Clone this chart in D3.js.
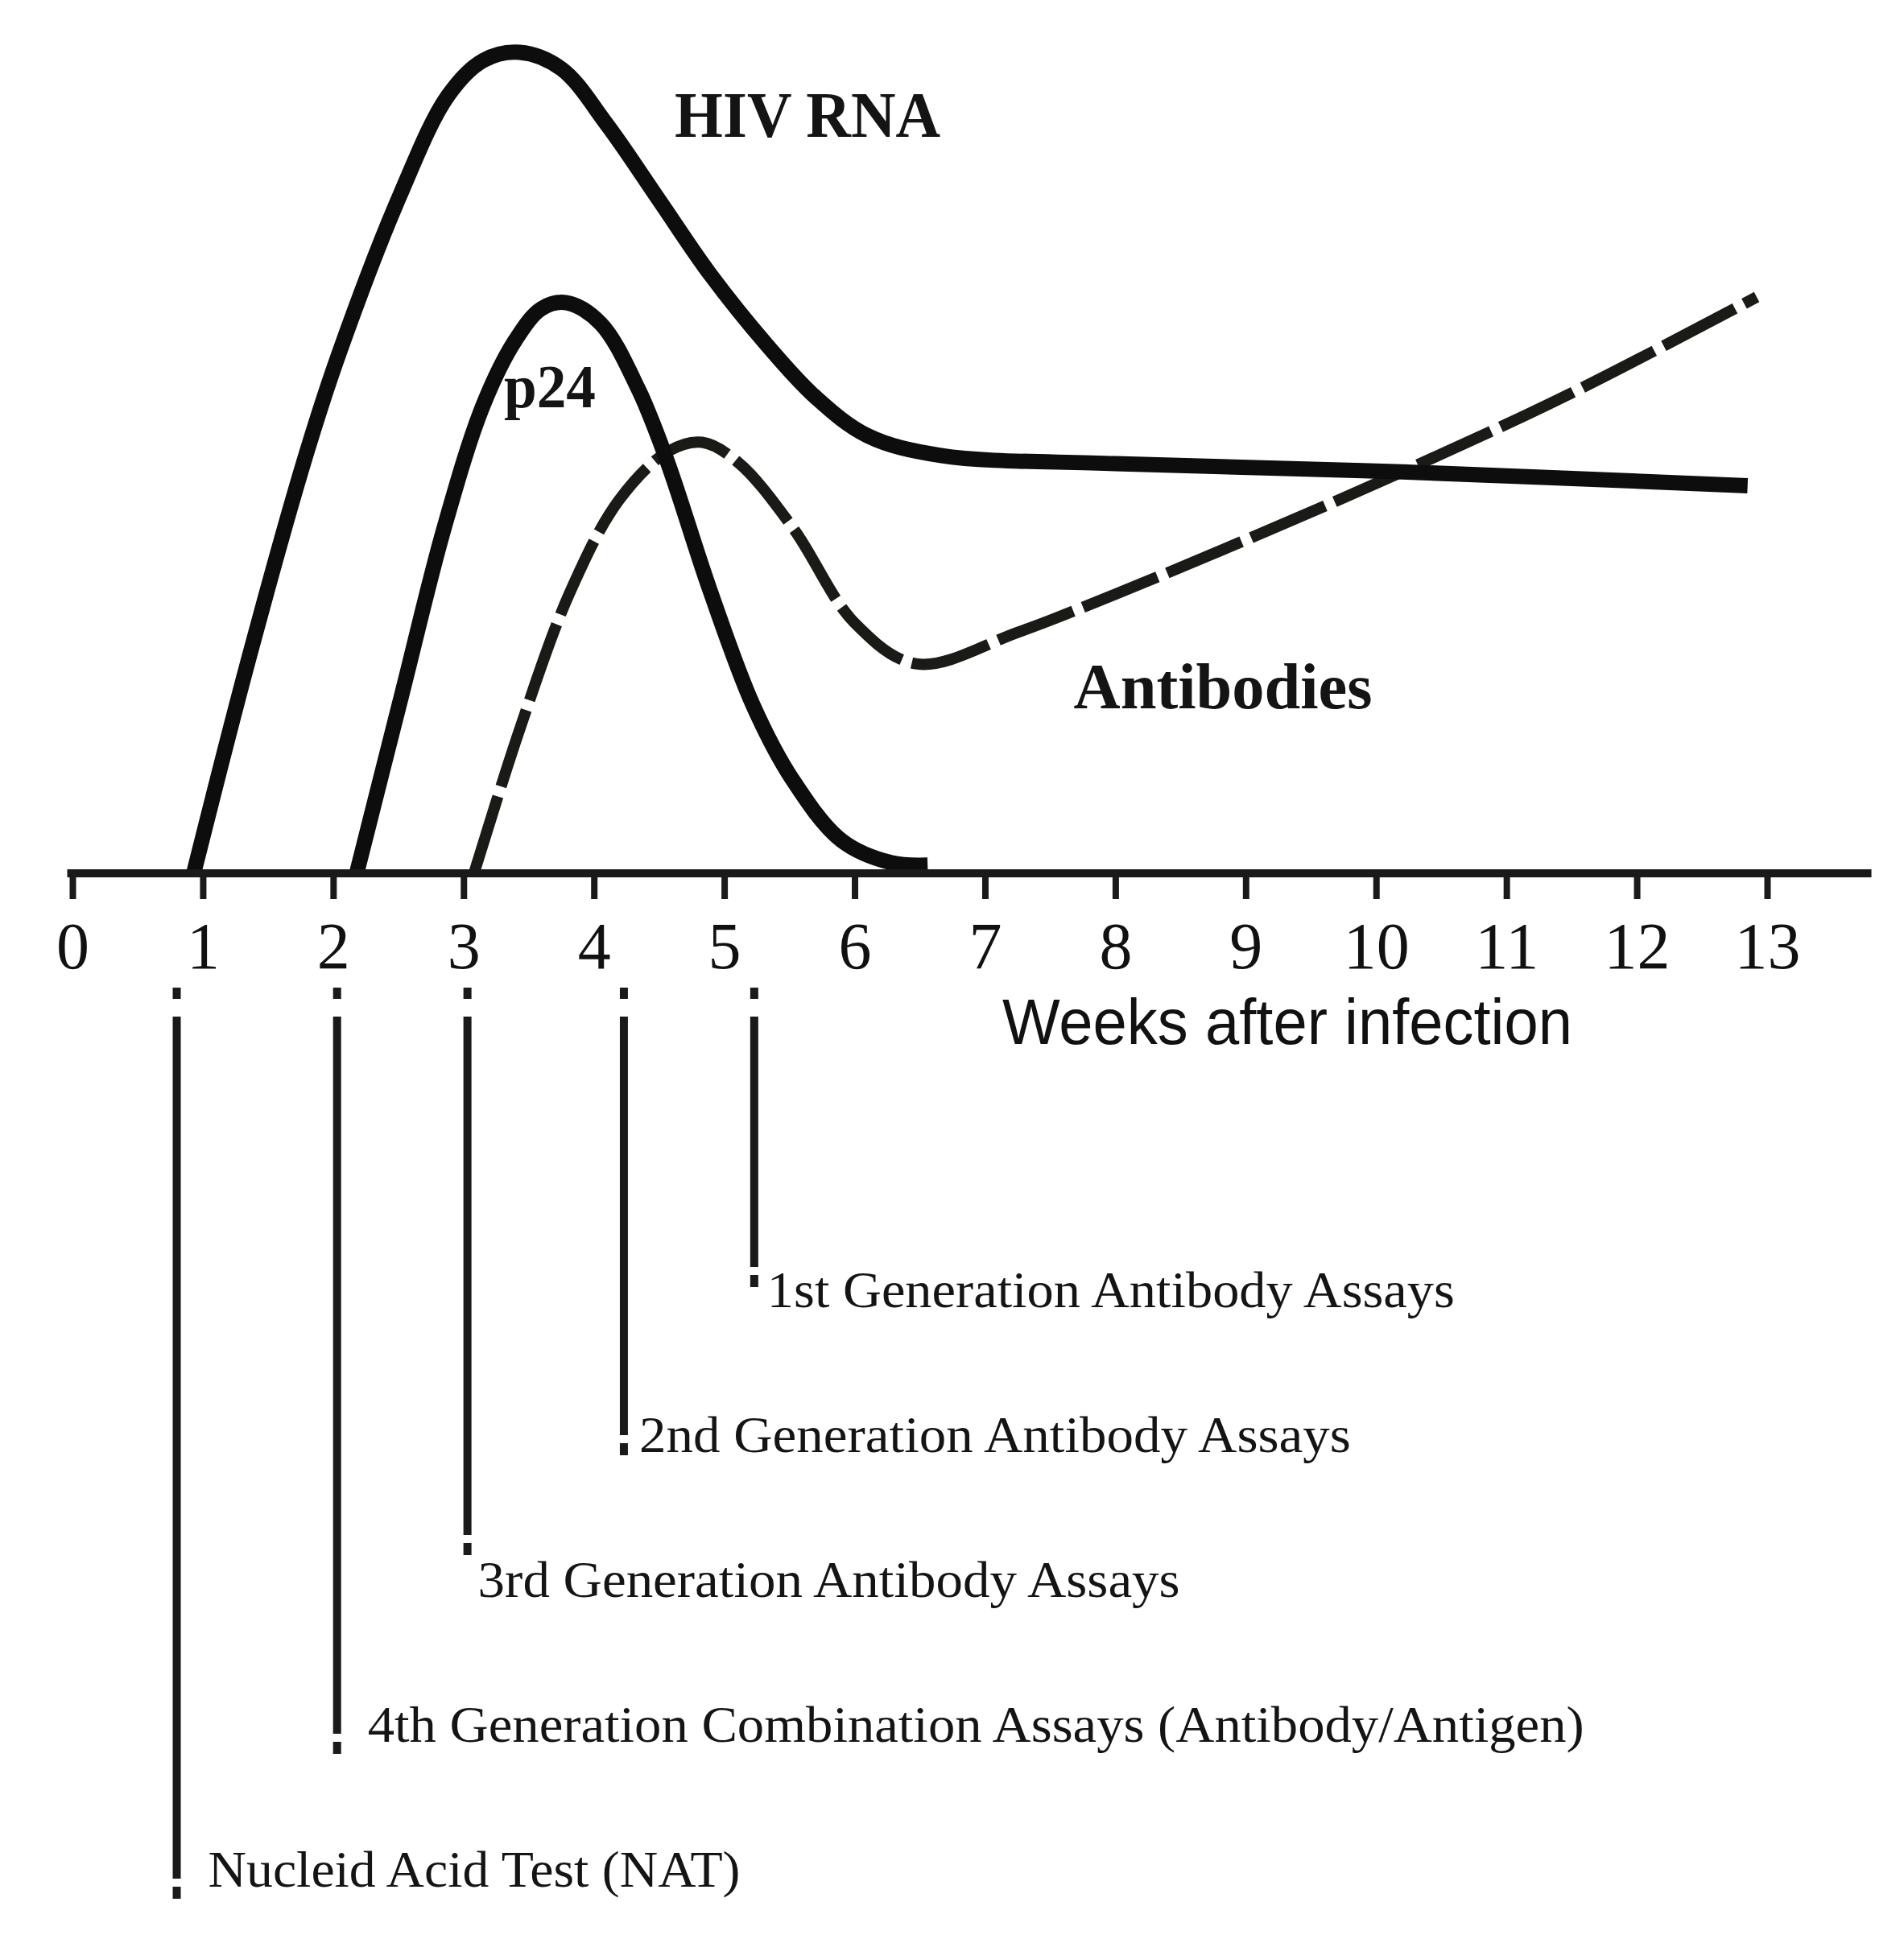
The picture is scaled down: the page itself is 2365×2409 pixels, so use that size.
<!DOCTYPE html>
<html>
<head>
<meta charset="utf-8">
<script src="https://cdnjs.cloudflare.com/ajax/libs/d3/7.8.5/d3.min.js"></script>
<style>
  body { margin: 0; background: #fff; }
  svg { display: block; }
</style>
</head>
<body>
<div id="chart"></div>
<script>

// Weeks shown on the axis
var weekTicks = [0, 1, 2, 3, 4, 5, 6, 7, 8, 9, 10, 11, 12, 13];

// HIV RNA curve (weeks after infection, relative level 0-100)
var hivRnaWeeks  = [0.93, 1.35, 1.79, 2.04, 2.51, 2.88, 3.15, 3.43, 3.75, 4.1, 4.5, 4.89, 5.33, 5.7, 6.1, 6.66, 8, 10.2, 12.85];
var hivRnaLevels = [0, 26, 50.9, 63.1, 82.5, 94.7, 99, 100, 98, 91.2, 82, 73, 64.3, 58, 53.3, 50.9, 49.9, 48.9, 47.2];

// p24 antigen curve
var p24Weeks  = [2.18, 2.53, 2.85, 3.15, 3.4, 3.6, 3.79, 4.05, 4.34, 4.56, 4.89, 5.22, 5.52, 5.9, 6.28, 6.56];
var p24Levels = [0, 22, 42, 57, 65, 68.8, 69.5, 67, 59, 50.3, 34.5, 20.5, 11.5, 4, 1.3, 1];

// Antibodies curve (dashed)
var antibodyWeeks  = [3.08, 3.43, 3.81, 4.19, 4.57, 4.83, 5.11, 5.53, 6.0, 6.48, 7.26, 8, 9, 10.2, 11.5, 12.92];
var antibodyLevels = [0, 17.5, 34, 45.4, 51.4, 52.5, 50, 42, 30.5, 25.5, 29.4, 34, 40.6, 48.9, 58.5, 70.2];

// Curve labels and where they sit (weeks, level)
var curveNames  = ["HIV RNA", "p24", "Antibodies"];
var curveLabelWeeks  = [4.62, 3.31, 7.68];
var curveLabelLevels = [89.7, 56.8, 20.1];

// Test assays and the week from which each one detects infection
var assayNames = [
  "1st Generation Antibody Assays",
  "2nd Generation Antibody Assays",
  "3rd Generation Antibody Assays",
  "4th Generation Combination Assays (Antibody/Antigen)",
  "Nucleid Acid Test (NAT)"
];
var assayWeeks = [5.23, 4.23, 3.03, 2.03, 0.8];

// ---- layout ----
var width = 2365, height = 2409;
var axisY = 1085;

var x = d3.scaleLinear().domain([0, 13]).range([90, 2195]);
var y = d3.scaleLinear().domain([0, 100]).range([axisY, 65]);

var svg = d3.select("#chart").append("svg")
    .attr("width", width)
    .attr("height", height);

svg.append("rect").attr("width", width).attr("height", height).attr("fill", "#fff");

var serif = "'Liberation Serif', 'Times New Roman', serif";
var sans = "'Liberation Sans', Arial, sans-serif";

// Build the point lists from the arrays
function zipPoints(weeks, levels) {
    return weeks.map(function(w, i) { return [w, levels[i]]; });
}

var line = d3.line()
    .x(function(d) { return x(d[0]); })
    .y(function(d) { return y(d[1]); })
    .curve(d3.curveCatmullRom.alpha(0.5));

// Antibodies dashed curve
svg.append("path")
    .attr("d", line(zipPoints(antibodyWeeks, antibodyLevels)))
    .attr("fill", "none")
    .attr("stroke", "#1a1a17")
    .attr("stroke-width", 14)
    .attr("stroke-dasharray", "100,13");

// p24 curve
svg.append("path")
    .attr("d", line(zipPoints(p24Weeks, p24Levels)))
    .attr("fill", "none")
    .attr("stroke", "#0d0d0d")
    .attr("stroke-width", 19);

// HIV RNA curve
svg.append("path")
    .attr("d", line(zipPoints(hivRnaWeeks, hivRnaLevels)))
    .attr("fill", "none")
    .attr("stroke", "#0d0d0d")
    .attr("stroke-width", 19);

// Axis line (drawn slightly past the last tick)
svg.append("line")
    .attr("x1", x(-0.04)).attr("x2", x(13.8))
    .attr("y1", axisY).attr("y2", axisY)
    .attr("stroke", "#1a1a1a")
    .attr("stroke-width", 10);

var xAxis = d3.axisBottom(x)
    .tickValues(weekTicks)
    .tickSize(32)
    .tickFormat(d3.format("d"));

var axisG = svg.append("g")
    .attr("transform", "translate(0," + axisY + ")")
    .call(xAxis);

axisG.select(".domain").remove();
axisG.selectAll(".tick line")
    .attr("stroke", "#1a1a1a")
    .attr("stroke-width", 8);
axisG.selectAll(".tick text")
    .attr("y", 118)
    .attr("dy", 0)
    .attr("fill", "#111")
    .style("font-family", serif)
    .style("font-size", "82px");

// Axis title
svg.append("text")
    .attr("x", 1245)
    .attr("y", 1297)
    .attr("textLength", 708)
    .attr("lengthAdjust", "spacingAndGlyphs")
    .style("font-family", sans)
    .style("font-size", "80px")
    .attr("fill", "#111")
    .text("Weeks after infection");

// Curve labels
var curveLabelWidths = [330, 114, 371];
svg.selectAll(".curve-label")
    .data(curveNames)
    .enter()
    .append("text")
    .attr("class", "curve-label")
    .attr("x", function(d, i) { return x(curveLabelWeeks[i]); })
    .attr("y", function(d, i) { return y(curveLabelLevels[i]); })
    .attr("textLength", function(d, i) { return curveLabelWidths[i]; })
    .attr("lengthAdjust", "spacingAndGlyphs")
    .style("font-family", serif)
    .style("font-weight", "bold")
    .style("font-size", function(d, i) { return i == 1 ? "76px" : "80px"; })
    .attr("fill", "#141414")
    .text(function(d) { return d; });

// Assay rows: baseline of each label, gap from line to text, text width,
// and where the short end dash finishes relative to the baseline
var rowTop = 1624, rowStep = 180;
var labelGaps = [16, 19, 13, 38, 39];
var labelWidths = [854, 884, 872, 1511, 661];
var dashEnds = [-25, 4, -52, 15, 15];

var assays = svg.selectAll(".assay")
    .data(assayNames)
    .enter()
    .append("g")
    .attr("class", "assay");

// Small dash just under the tick labels
assays.append("line")
    .attr("x1", function(d, i) { return x(assayWeeks[i]); })
    .attr("x2", function(d, i) { return x(assayWeeks[i]); })
    .attr("y1", 1227).attr("y2", 1241)
    .attr("stroke", "#1a1a1a")
    .attr("stroke-width", 10);

// Long vertical line
assays.append("line")
    .attr("x1", function(d, i) { return x(assayWeeks[i]); })
    .attr("x2", function(d, i) { return x(assayWeeks[i]); })
    .attr("y1", 1263)
    .attr("y2", function(d, i) { return rowTop + rowStep * i + dashEnds[i] - 25; })
    .attr("stroke", "#1a1a1a")
    .attr("stroke-width", 10);

// Short dash at the bottom, next to the label
assays.append("line")
    .attr("x1", function(d, i) { return x(assayWeeks[i]); })
    .attr("x2", function(d, i) { return x(assayWeeks[i]); })
    .attr("y1", function(d, i) { return rowTop + rowStep * i + dashEnds[i] - 15; })
    .attr("y2", function(d, i) { return rowTop + rowStep * i + dashEnds[i]; })
    .attr("stroke", "#1a1a1a")
    .attr("stroke-width", 10);

assays.append("text")
    .attr("x", function(d, i) { return x(assayWeeks[i]) + labelGaps[i]; })
    .attr("y", function(d, i) { return rowTop + rowStep * i; })
    .attr("textLength", function(d, i) { return labelWidths[i]; })
    .attr("lengthAdjust", "spacingAndGlyphs")
    .style("font-family", serif)
    .style("font-size", "63px")
    .attr("fill", "#141414")
    .text(function(d) { return d; });

</script>
</body>
</html>
